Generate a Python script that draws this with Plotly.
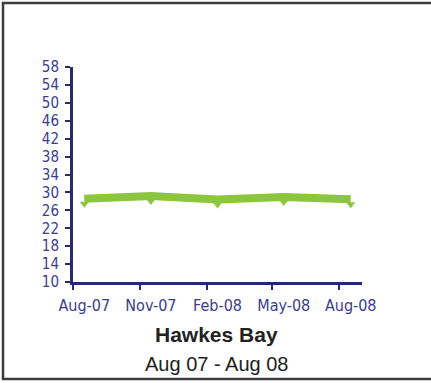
import pandas as pd
import plotly.graph_objects as go

# Quarterly readings, Hawkes Bay
months = ["2007-08", "2007-11", "2008-02", "2008-05", "2008-08"]
month_labels = ["Aug-07", "Nov-07", "Feb-08", "May-08", "Aug-08"]
values = [28.6, 29.2, 28.4, 29.0, 28.5]
y_ticks = [10, 14, 18, 22, 26, 30, 34, 38, 42, 46, 50, 54, 58]

# each reading sits in the middle of its month slot; ticks mark month starts
periods = [pd.Period(m, freq="M") for m in months]
starts = [p.start_time for p in periods]
mids = [p.start_time + (p.end_time - p.start_time) / 2 for p in periods]
x_range = [pd.Timestamp("2007-08-01"), pd.Timestamp("2008-09-01")]

GREEN = "#8cc63e"
NAVY = "#262a6e"
LABEL = "#3b3d8c"
FONT = "DejaVu Sans Condensed, sans-serif"
TITLE_FONT = "Liberation Sans, Arial, sans-serif"

fig = go.Figure()
fig.add_trace(go.Scatter(
    x=mids, y=values, mode="lines",
    line=dict(color=GREEN, width=8),
    hoverinfo="skip", showlegend=False,
))
fig.add_trace(go.Scatter(
    x=mids, y=values, mode="markers",
    marker=dict(symbol="triangle-down", standoff=5, size=8, color=GREEN,
                line=dict(width=0)),
    hoverinfo="skip", showlegend=False,
))
# invisible trace carrying the month labels on the overlay axis
fig.add_trace(go.Scatter(
    x=mids, y=values, xaxis="x2", mode="markers",
    marker=dict(opacity=0), hoverinfo="skip", showlegend=False,
))

fig.update_layout(
    width=431, height=383,
    margin=dict(l=73, r=69, t=67, b=101),
    paper_bgcolor="white", plot_bgcolor="white",
    font=dict(family=FONT, color=LABEL, size=15),
    xaxis=dict(
        type="date", range=x_range,
        tickvals=starts, showticklabels=False,
        ticks="outside", ticklen=5, tickwidth=2, tickcolor=NAVY,
        showline=True, linecolor=NAVY, linewidth=3,
        showgrid=False, zeroline=False,
    ),
    xaxis2=dict(
        type="date", overlaying="x", matches="x", anchor="y", side="bottom",
        tickvals=mids, ticktext=month_labels,
        ticks="", showline=False, showgrid=False, zeroline=False,
        ticklabelstandoff=12,
        tickfont=dict(family=FONT, size=16, color=LABEL),
    ),
    yaxis=dict(
        range=[10, 58], tickvals=y_ticks,
        ticks="outside", ticklen=5, tickwidth=2, tickcolor=NAVY,
        showline=True, linecolor=NAVY, linewidth=3,
        showgrid=False, zeroline=False,
        ticklabelstandoff=3,
        tickfont=dict(family=FONT, size=15, color=LABEL),
    ),
    annotations=[
        dict(text="<b>Hawkes Bay</b>", xref="paper", yref="paper", x=0.495, y=-0.2465,
             xanchor="center", yanchor="middle", showarrow=False,
             font=dict(family=TITLE_FONT, size=21, color="#222222")),
        dict(text="Aug 07 - Aug 08", xref="paper", yref="paper", x=0.495, y=-0.381,
             xanchor="center", yanchor="middle", showarrow=False,
             font=dict(family=TITLE_FONT, size=20, color="#222222")),
    ],
    shapes=[
        dict(type="rect", xref="paper", yref="paper",
             x0=-0.2422, x1=1.35, y0=-0.4512, y1=1.2977,
             line=dict(color="#3c3c3c", width=2.5), fillcolor="rgba(0,0,0,0)", layer="below"),
    ],
)

fig.write_html("out.html")
